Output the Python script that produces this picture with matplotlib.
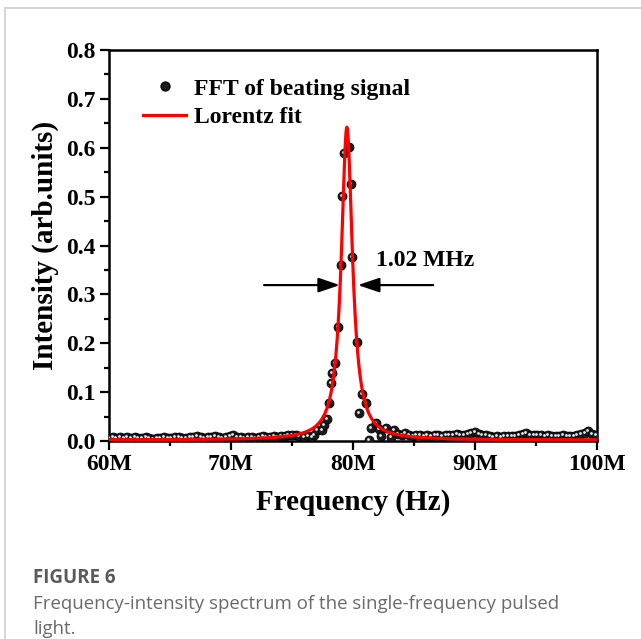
import numpy as np
import matplotlib
matplotlib.use("Agg")
import matplotlib.pyplot as plt
from matplotlib.lines import Line2D
import matplotlib.transforms as mtransforms

# ---------------- data (MHz, arb. units) ----------------
freq_left = [60.0, 60.3, 60.6, 60.9, 61.2, 61.5, 61.8, 62.1, 62.4, 62.7, 63.0, 63.3,
             63.6, 63.9, 64.2, 64.5, 64.8, 65.1, 65.4, 65.7, 66.0, 66.3, 66.6, 66.9,
             67.2, 67.5, 67.8, 68.1, 68.4, 68.7, 69.0, 69.3, 69.6, 69.9, 70.2, 70.5,
             70.8, 71.1, 71.4, 71.7, 72.0, 72.3, 72.6, 72.9, 73.2, 73.5, 73.8, 74.1,
             74.4, 74.7, 75.0, 75.3, 75.6, 75.98, 76.3, 76.67, 76.8]
inten_left = [0.007, 0.008, 0.006, 0.009, 0.007, 0.008, 0.006, 0.008, 0.007, 0.006, 0.008, 0.007,
              0.005, 0.007, 0.006, 0.008, 0.006, 0.007, 0.008, 0.009, 0.007, 0.006, 0.009, 0.008,
              0.010, 0.008, 0.007, 0.009, 0.008, 0.010, 0.008, 0.007, 0.009, 0.010, 0.012, 0.009,
              0.008, 0.007, 0.009, 0.008, 0.007, 0.009, 0.011, 0.009, 0.008, 0.010, 0.009, 0.011,
              0.010, 0.012, 0.013, 0.012, 0.010, 0.009, 0.011, 0.0075, 0.012]

freq_peak = [77.08, 77.49, 77.62, 77.84, 78.03, 78.17, 78.31, 78.55, 78.80, 78.99, 79.12,
             79.26, 79.67, 79.80, 79.94, 80.29, 80.48, 80.76, 81.03, 81.30, 81.44, 81.85,
             82.12, 82.26, 82.67, 83.08, 83.35]
inten_peak = [0.0225, 0.0225, 0.033, 0.044, 0.078, 0.118, 0.140, 0.159, 0.233, 0.360, 0.501,
              0.589, 0.602, 0.525, 0.377, 0.203, 0.057, 0.096, 0.078, 0.002, 0.026, 0.037,
              0.024, 0.010, 0.026, 0.0075, 0.0225]

freq_right = [83.7, 84.0, 84.3, 84.6, 84.9, 85.2, 85.5, 85.8, 86.1, 86.4, 86.7, 87.0, 87.3,
              87.6, 87.9, 88.2, 88.5, 88.8, 89.1, 89.4, 89.7, 90.0, 90.3, 90.6, 90.9, 91.2,
              91.5, 91.8, 92.1, 92.4, 92.7, 93.0, 93.3, 93.6, 93.9, 94.2, 94.5, 94.8, 95.1,
              95.4, 95.7, 96.0, 96.3, 96.6, 96.9, 97.2, 97.5, 97.8, 98.1, 98.4, 98.7, 99.0,
              99.3, 99.6, 99.9]
inten_right = [0.014, 0.012, 0.017, 0.013, 0.011, 0.012, 0.013, 0.011, 0.012, 0.010, 0.012, 0.013, 0.011,
               0.012, 0.013, 0.012, 0.015, 0.013, 0.012, 0.014, 0.016, 0.019, 0.015, 0.013, 0.012, 0.010,
               0.008, 0.010, 0.009, 0.010, 0.011, 0.010, 0.011, 0.013, 0.015, 0.016, 0.013, 0.012, 0.013,
               0.012, 0.011, 0.012, 0.010, 0.011, 0.010, 0.012, 0.011, 0.010, 0.011, 0.012, 0.015, 0.017,
               0.020, 0.015, 0.012]

# Lorentz fit parameters
fit_center = 79.5     # MHz
fit_fwhm = 1.1        # MHz
fit_amp = 0.64
fit_offset = 0.002

fwhm_label = "1.02 MHz"
x_ticks = [60, 70, 80, 90, 100]
x_ticklabels = ["60M", "70M", "80M", "90M", "100M"]
y_ticks = [0.0, 0.1, 0.2, 0.3, 0.4, 0.5, 0.6, 0.7, 0.8]
y_ticklabels = ["0.0", "0.1", "0.2", "0.3", "0.4", "0.5", "0.6", "0.7", "0.8"]

# ---------------- plot ----------------
serif = ["Liberation Serif", "DejaVu Serif"]
plt.rcParams["font.family"] = serif
plt.rcParams["font.weight"] = "bold"

fig = plt.figure(figsize=(6.41, 6.39), dpi=100)
ax = fig.add_axes([109 / 641, 1 - 441 / 639, (597 - 109) / 641, (441 - 50) / 639])

freq = np.array(freq_left + freq_peak + freq_right)
inten = np.array(inten_left + inten_peak + inten_right)

# Lorentz curve
xf = np.linspace(60, 100, 2001)
hw = fit_fwhm / 2
yf = fit_offset + fit_amp * hw ** 2 / ((xf - fit_center) ** 2 + hw ** 2)

# data points drawn as shaded spheres
ax.plot(freq, inten, ls="none", marker="o", ms=6.4, mfc="#1c1c1c", mec="#000000",
        mew=0.6, zorder=3)
hl = mtransforms.offset_copy(ax.transData, fig=fig, x=-1.0, y=1.0, units="dots")
ax.plot(freq, inten, ls="none", marker="o", ms=2.0, mfc="#e8e8e8", mec="none",
        transform=hl, zorder=4)

ax.plot(xf, yf, color="#ff0000", lw=2.3, zorder=5)

ax.set_xlim(60, 100)
ax.set_ylim(0, 0.8)
ax.set_xticks(x_ticks)
ax.set_xticklabels(x_ticklabels)
ax.set_xticks([65, 75, 85, 95], minor=True)
ax.set_yticks(y_ticks)
ax.set_yticklabels(y_ticklabels)
ax.set_yticks(np.arange(0.05, 0.8, 0.1), minor=True)
ax.tick_params(axis="both", which="major", direction="out", length=6.5, width=1.6,
               labelsize=17, pad=3)
ax.tick_params(axis="both", which="minor", direction="out", length=3.5, width=1.6)
for s in ax.spines.values():
    s.set_linewidth(1.8)

ax.set_xlabel("Frequency (Hz)", fontsize=21, fontweight="bold", labelpad=10)
ax.set_ylabel("Intensity (arb.units)", fontsize=21, fontweight="bold", labelpad=5)

# legend
h1 = Line2D([], [], ls="none", marker="o", ms=6.4, mfc="#1c1c1c", mec="#000000")
h2 = Line2D([], [], color="#ff0000", lw=2.3)
leg = ax.legend([h1, h2], ["FFT of beating signal", "Lorentz fit"], loc="upper left",
                bbox_to_anchor=(0.045, 0.958), frameon=False, borderpad=0,
                handlelength=1.85, handletextpad=0.3, labelspacing=0.3,
                prop={"family": serif, "weight": "bold", "size": 17})

# FWHM annotation
arr_y = 0.319
ap = dict(arrowstyle="-|>,head_length=0.65,head_width=0.22", color="black", lw=1.6,
          mutation_scale=20, shrinkA=0, shrinkB=0)
ax.annotate("", xy=(78.93, arr_y), xytext=(72.71, arr_y), arrowprops=ap)
ax.annotate("", xy=(80.40, arr_y), xytext=(86.57, arr_y), arrowprops=ap)
ax.text(81.85, 0.370, fwhm_label, fontsize=17, fontweight="bold", ha="left", va="center")

# page frame lines
fig.add_artist(Line2D([5 / 641, 1.0], [1 - 8 / 639, 1 - 8 / 639], color="#d0d0d0", lw=1.2,
                      transform=fig.transFigure))
fig.add_artist(Line2D([5 / 641, 5 / 641], [0, 1 - 8 / 639], color="#d0d0d0", lw=1.2,
                      transform=fig.transFigure))

# caption
cap_font = ["Open Sans", "DejaVu Sans"]
fig.text(33 / 641, 1 - 578 / 639, "FIGURE 6", fontsize=13.5, fontweight="bold",
         color="#5a5a5a", family=cap_font, va="center", ha="left")
fig.text(33 / 641, 1 - 604 / 639, "Frequency-intensity spectrum of the single-frequency pulsed",
         fontsize=13.4, fontweight="normal", color="#6a6a6a", family=cap_font,
         va="center", ha="left")
fig.text(33 / 641, 1 - 629 / 639, "light.", fontsize=13.4, fontweight="normal",
         color="#6a6a6a", family=cap_font, va="center", ha="left")

fig.savefig("out.png", dpi=100)
